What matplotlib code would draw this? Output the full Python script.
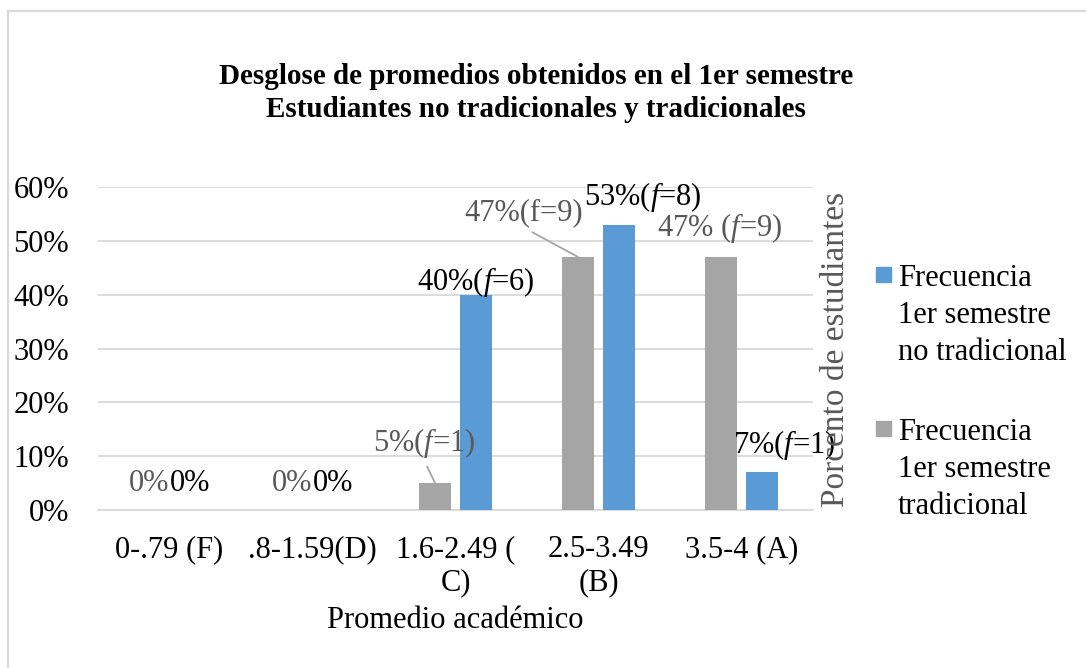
import matplotlib
matplotlib.use("Agg")
import matplotlib.pyplot as plt
from matplotlib.lines import Line2D
from matplotlib.patches import Rectangle
from matplotlib.ticker import PercentFormatter

plt.rcParams['font.family'] = ['Liberation Serif', 'DejaVu Serif']
plt.rcParams['mathtext.fontset'] = 'custom'
plt.rcParams['mathtext.rm'] = 'Liberation Serif'
plt.rcParams['mathtext.it'] = 'Liberation Serif:italic'
plt.rcParams['mathtext.bf'] = 'Liberation Serif:bold'

categories = ["0-.79 (F)", ".8-1.59(D)", "1.6-2.49 (\nC)", "2.5-3.49\n(B)", "3.5-4 (A)"]
tradicional = [0.00, 0.00, 0.05, 0.47, 0.47]
no_tradicional = [0.00, 0.00, 0.40, 0.53, 0.07]

labels_trad = ["0%", "0%", r"5%($\mathit{f}$=$\mathit{1}$)", "47%(f=9)", r"47% ($\mathit{f}$=9)"]
labels_no_trad = ["0%", "0%", r"40%$\mathit{(f}$=$\mathit{6)}$", r"53%$\mathit{(f}$=$\mathit{8)}$",
                  r"7%($\mathit{f}$=1)"]

BLUE = "#5b9bd5"
GRAY = "#a5a5a5"
GRID = "#d9d9d9"
TXT_GRAY = "#595959"
FS = 22

fig = plt.figure(figsize=(10.86, 6.68), dpi=100)
ax = fig.add_axes([98 / 1086, 1 - 510 / 668, 715 / 1086, 323 / 668])

x = list(range(len(categories)))
off = 0.143
w = 0.224
ax.bar([i - off for i in x], tradicional, width=w, color=GRAY, zorder=3)
ax.bar([i + off for i in x], no_tradicional, width=w, color=BLUE, zorder=3)

ax.set_xlim(-0.5, 4.5)
ax.set_ylim(0, 0.6)
ax.set_yticks([0, 0.1, 0.2, 0.3, 0.4, 0.5, 0.6])
ax.yaxis.set_major_formatter(PercentFormatter(1.0, decimals=0))
ax.set_xticks(x)
ax.set_xticklabels(categories)
ax.tick_params(axis='both', length=0, labelsize=FS)
ax.tick_params(axis='y', pad=21)
ax.tick_params(axis='x', pad=18)
ax.grid(axis='y', color=GRID, linewidth=1.3, zorder=0)
for s in ['top', 'right', 'left']:
    ax.spines[s].set_visible(False)
ax.spines['bottom'].set_color(GRID)
ax.spines['bottom'].set_linewidth(1.3)

# data labels
for i in range(2):
    ax.text(i, 0.05, labels_trad[i], ha='right', va='center', fontsize=FS, color=TXT_GRAY)
    ax.text(i, 0.05, labels_no_trad[i], ha='left', va='center', fontsize=FS, color='black')

lead = dict(arrowstyle='-', color=GRAY, lw=1.3, relpos=(0.5, 0), shrinkA=3, shrinkB=0)
ax.annotate(labels_trad[2], xy=(2 - off, tradicional[2]), xytext=(1.78, 0.1245),
            ha='center', va='center', fontsize=FS, color=TXT_GRAY, arrowprops=lead)
ax.annotate(labels_trad[3], xy=(3 - off, tradicional[3]), xytext=(2.476, 0.5517),
            ha='center', va='center', fontsize=FS, color=TXT_GRAY, arrowprops=lead)
ax.text(3.85, 0.5239, labels_trad[4], ha='center', va='center', fontsize=FS, color=TXT_GRAY)
ax.text(2.14, 0.4236, labels_no_trad[2], ha='center', va='center', fontsize=FS, color='black')
ax.text(3.308, 0.5815, labels_no_trad[3], ha='center', va='center', fontsize=FS, color='black')
ax.text(4.30, 0.1207, labels_no_trad[4], ha='center', va='center', fontsize=FS, color='black')

ax.set_xlabel("Promedio académico", fontsize=FS)
ax.xaxis.label.set_va('center')
ax.xaxis.set_label_coords(0.5, (510 - 621) / 323)

fig.text(836 / 1086, 1 - 349 / 668, "Porcento de estudiantes", rotation=90,
         ha='center', va='center', fontsize=24, color=TXT_GRAY)

fig.text(536 / 1086, 1 - 93 / 668,
         "Desglose de promedios obtenidos en el 1er semestre\nEstudiantes no tradicionales y tradicionales",
         ha='center', va='center', fontsize=21, fontweight='bold', linespacing=1.3)

# legend
leg = [(BLUE, "Frecuencia\n1er semestre\nno tradicional", 264, 275),
       (GRAY, "Frecuencia\n1er semestre\ntradicional", 418, 428)]
for col, txt, ytop, ysq in leg:
    fig.patches.append(Rectangle((876 / 1086, 1 - (ysq + 7.5) / 668), 15 / 1086, 15 / 668,
                                 transform=fig.transFigure, color=col))
    fig.text(898 / 1086, 1 - ytop / 668, txt, ha='left', va='top', fontsize=FS,
             linespacing=1.36)

# chart border (partly visible)
fig.add_artist(Line2D([8 / 1086, 8 / 1086], [0, 1 - 11 / 668], color=GRID, lw=1.6,
                      transform=fig.transFigure))
fig.add_artist(Line2D([8 / 1086, 1], [1 - 11 / 668, 1 - 11 / 668], color=GRID, lw=1.6,
                      transform=fig.transFigure))

fig.savefig("out.png", dpi=100)
